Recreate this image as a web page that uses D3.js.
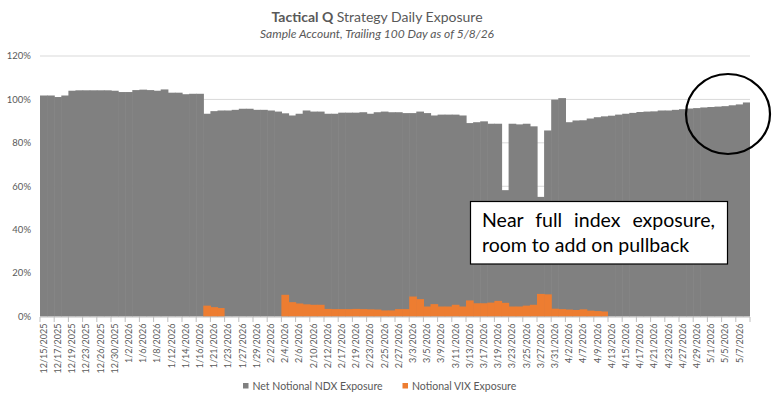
<!DOCTYPE html>
<html>
<head>
<meta charset="utf-8">
<script src="https://cdn.jsdelivr.net/npm/d3@7"></script>
<style>
  html, body { margin: 0; padding: 0; background: #fff; }
  svg { display: block; font-family: Lato, "Open Sans", sans-serif; }
</style>
</head>
<body>
<svg id="chart" width="776" height="408"></svg>
<script>
// ---- DATA ----
const dates = [
  "12/15/2025","12/16/2025","12/17/2025","12/18/2025","12/19/2025","12/22/2025","12/23/2025","12/24/2025","12/26/2025","12/29/2025",
  "12/30/2025","12/31/2025","1/2/2026","1/5/2026","1/6/2026","1/7/2026","1/8/2026","1/9/2026","1/12/2026","1/13/2026",
  "1/14/2026","1/15/2026","1/16/2026","1/20/2026","1/21/2026","1/22/2026","1/23/2026","1/26/2026","1/27/2026","1/28/2026",
  "1/29/2026","1/30/2026","2/2/2026","2/3/2026","2/4/2026","2/5/2026","2/6/2026","2/9/2026","2/10/2026","2/11/2026",
  "2/12/2026","2/13/2026","2/17/2026","2/18/2026","2/19/2026","2/20/2026","2/23/2026","2/24/2026","2/25/2026","2/26/2026",
  "2/27/2026","3/2/2026","3/3/2026","3/4/2026","3/5/2026","3/6/2026","3/9/2026","3/10/2026","3/11/2026","3/12/2026",
  "3/13/2026","3/16/2026","3/17/2026","3/18/2026","3/19/2026","3/20/2026","3/23/2026","3/24/2026","3/25/2026","3/26/2026",
  "3/27/2026","3/30/2026","3/31/2026","4/1/2026","4/2/2026","4/6/2026","4/7/2026","4/8/2026","4/9/2026","4/10/2026",
  "4/13/2026","4/14/2026","4/15/2026","4/16/2026","4/17/2026","4/20/2026","4/21/2026","4/22/2026","4/23/2026","4/24/2026",
  "4/27/2026","4/28/2026","4/29/2026","4/30/2026","5/1/2026","5/4/2026","5/5/2026","5/6/2026","5/7/2026","5/8/2026"
];

// Net Notional NDX Exposure (%)
const ndxExposure = [
  101.8,101.8,101.1,101.8,104.0,104.2,104.2,104.2,104.2,104.2,
  104.0,103.4,103.4,104.3,104.5,104.3,104.0,104.6,103.1,103.1,
  102.4,102.6,102.6,93.4,94.6,94.9,94.9,95.2,95.7,95.7,
  95.2,95.2,94.9,94.4,93.6,92.6,93.4,94.9,94.4,94.4,
  93.4,93.4,93.9,93.9,93.9,94.1,93.4,94.1,94.4,94.1,
  94.1,93.7,93.7,94.4,93.7,92.6,93.0,93.0,93.0,92.6,
  89.1,89.5,89.9,88.8,88.8,58.2,88.8,88.5,88.8,87.6,
  55.1,85.7,99.9,100.6,89.5,90.3,90.4,91.2,91.8,92.2,
  92.5,93.0,93.4,93.8,94.2,94.4,94.5,94.9,94.9,95.2,
  95.5,95.8,96.0,96.3,96.5,96.7,96.9,97.3,97.7,98.6
];

// Notional VIX Exposure (%)
const vixExposure = [
  0,0,0,0,0,0,0,0,0,0,
  0,0,0,0,0,0,0,0,0,0,
  0,0,0,5.0,4.3,3.9,0,0,0,0,
  0,0,0,0,10.0,6.6,6.0,5.6,5.4,5.4,
  3.5,3.4,3.4,3.4,3.5,3.4,3.3,3.2,2.8,2.8,
  3.4,3.4,9.2,8.0,4.6,5.7,4.6,4.6,5.4,4.6,
  7.4,6.1,6.1,6.4,7.2,6.3,4.6,4.6,5.0,5.4,
  10.4,10.2,3.6,3.4,3.2,3.0,3.3,2.7,2.5,2.3,
  0,0,0,0,0,0,0,0,0,0,
  0,0,0,0,0,0,0,0,0,0
];

const yTicks = [0, 20, 40, 60, 80, 100, 120];
const tickLabels = dates.filter((d, i) => i % 2 === 0);
const seriesNames = ["Net Notional NDX Exposure", "Notional VIX Exposure"];
const titleBold = "Tactical Q";
const titleRest = " Strategy Daily Exposure";
const subtitle = "Sample Account, Trailing 100 Day as of 5/8/26";
const calloutLines = ["Near full index exposure,", "room to add on pullback"];

// ---- LAYOUT ----
const svg = d3.select("#chart");
const plot = { left: 40, right: 750, top: 56, bottom: 316.5 };
const textColor = "#595959";
const grayColor = "#808080";
const orangeColor = "#ED7D31";

const x = d3.scaleBand().domain(dates).range([plot.left, plot.right]).padding(0);
const y = d3.scaleLinear().domain([0, 120]).range([plot.bottom, plot.top]);
const bw = x.bandwidth();

// gridlines
svg.append("g").selectAll("line").data(yTicks.filter(t => t > 0)).join("line")
  .attr("x1", plot.left).attr("x2", plot.right)
  .attr("y1", d => y(d)).attr("y2", d => y(d))
  .attr("stroke", "#d9d9d9").attr("stroke-width", 1);

// y labels
svg.append("g").selectAll("text").data(yTicks).join("text")
  .attr("x", 31).attr("y", d => y(d)).attr("dy", "0.35em")
  .attr("text-anchor", "end").attr("font-size", 9.5).attr("fill", textColor)
  .text(d => d + "%");

// NDX bars
svg.append("g").selectAll("rect").data(ndxExposure).join("rect")
  .attr("x", (d, i) => x(dates[i]))
  .attr("width", (d, i) => i === dates.length - 1 ? bw : bw + 0.6)
  .attr("y", d => y(d)).attr("height", d => y(0) - y(d))
  .attr("fill", grayColor);

// VIX bars
svg.append("g").selectAll("rect").data(vixExposure).join("rect")
  .attr("x", (d, i) => x(dates[i]))
  .attr("width", (d, i) => (i < dates.length - 1 && vixExposure[i + 1] > 0) ? bw + 0.6 : bw)
  .attr("y", d => y(d)).attr("height", d => y(0) - y(d))
  .attr("fill", orangeColor)
  .attr("display", d => d > 0 ? null : "none");

// x axis line
svg.append("line")
  .attr("x1", plot.left).attr("x2", plot.right)
  .attr("y1", y(0) + 0.5).attr("y2", y(0) + 0.5)
  .attr("stroke", "#bfbfbf").attr("stroke-width", 1);

// tick marks every 2 categories
const tickPos = dates.filter((d, i) => i % 2 === 0).map(d => x(d)).concat([plot.right]);
svg.append("g").selectAll("line").data(tickPos).join("line")
  .attr("x1", d => d).attr("x2", d => d)
  .attr("y1", y(0) + 0.5).attr("y2", y(0) + 5.5)
  .attr("stroke", "#bfbfbf").attr("stroke-width", 1);

// x labels
svg.append("g").selectAll("text").data(tickLabels).join("text")
  .attr("transform", d => `translate(${x(d) + bw / 2},${y(0) + 7}) rotate(-90)`)
  .attr("text-anchor", "end").attr("dy", "0.35em")
  .attr("font-size", 9).attr("fill", textColor)
  .text(d => d);

// title
const title = svg.append("text").attr("x", 377).attr("y", 22)
  .attr("text-anchor", "middle").attr("font-size", 14).attr("fill", textColor);
title.append("tspan").attr("font-weight", "bold").text(titleBold);
title.append("tspan").text(titleRest);

svg.append("text").attr("x", 377).attr("y", 37.5)
  .attr("text-anchor", "middle").attr("font-size", 12).attr("font-style", "italic")
  .attr("fill", textColor).text(subtitle);

// legend
const legendItems = [
  { name: seriesNames[0], color: grayColor, x: 243 },
  { name: seriesNames[1], color: orangeColor, x: 402.5 }
];
const lg = svg.append("g");
legendItems.forEach(it => {
  lg.append("rect").attr("x", it.x).attr("y", 383).attr("width", 5.5).attr("height", 5.5).attr("fill", it.color);
  lg.append("text").attr("x", it.x + 9.5).attr("y", 389.5)
    .attr("font-size", 10.5).attr("fill", textColor).text(it.name);
});

// callout box
svg.append("rect").attr("x", 470.5).attr("y", 201.5).attr("width", 257).attr("height", 62.5)
  .attr("fill", "#fff").attr("stroke", "#000").attr("stroke-width", 1.2);
const l1 = svg.append("text").attr("x", 482).attr("y", 226.5)
  .attr("font-size", 19.5).attr("fill", "#000").text(calloutLines[0]);
svg.append("text").attr("x", 482).attr("y", 252)
  .attr("font-size", 19.5).attr("fill", "#000").text(calloutLines[1]);
// justify first line
const w1 = l1.node().getComputedTextLength();
const spaces = calloutLines[0].split(" ").length - 1;
const target = 233;
if (w1 < target) l1.attr("word-spacing", (target - w1) / spaces);

// highlight circle
svg.append("ellipse").attr("cx", 728).attr("cy", 114).attr("rx", 42).attr("ry", 40)
  .attr("fill", "none").attr("stroke", "#000").attr("stroke-width", 2.2);
</script>
</body>
</html>
